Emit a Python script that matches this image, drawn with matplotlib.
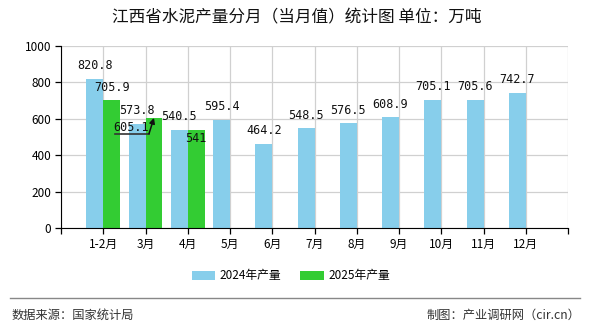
import matplotlib
matplotlib.use("Agg")
import matplotlib.pyplot as plt
import numpy as np
from matplotlib.lines import Line2D
from matplotlib.transforms import ScaledTranslation

plt.rcParams['font.family'] = ['Noto Sans CJK SC', 'DejaVu Sans']

categories = ['1-2月', '3月', '4月', '5月', '6月', '7月', '8月', '9月', '10月', '11月', '12月']
values_2024 = [820.8, 573.8, 540.5, 595.4, 464.2, 548.5, 576.5, 608.9, 705.1, 705.6, 742.7]
values_2025 = [705.9, 605.1, 541]
series_names = ['2024年产量', '2025年产量']
title = '江西省水泥产量分月（当月值）统计图 单位：万吨'
source_left = '数据来源：国家统计局'
source_right = '制图：产业调研网（cir.cn）'

c24 = '#87CEEB'
c25 = '#33CC33'

fig = plt.figure(figsize=(5.9, 3.3), dpi=100)
ax = fig.add_axes([61/590, 1-228/330, (568-61)/590, (228-46)/330])

n = len(categories)
x = np.arange(n)
w = 0.4
x25 = np.arange(len(values_2025))
b1 = ax.bar(x - w/2, values_2024, width=w, color=c24, label=series_names[0], zorder=2)
b2 = ax.bar(x25 + w/2, values_2025, width=w, color=c25, label=series_names[1], zorder=2)

ax.set_xlim(-1, n)
ax.set_ylim(0, 1000)
ax.set_yticks(np.arange(0, 1001, 200))
ax.set_xticks(np.arange(-1, n + 1))
ax.set_xticklabels([''] + categories + [''])
ax.grid(True, color='#d0d0d0', linewidth=0.9, zorder=0)
ax.set_axisbelow(True)
for s in ['top', 'right']:
    ax.spines[s].set_visible(False)
ax.spines['left'].set_color('black')
ax.spines['bottom'].set_color('black')
ax.tick_params(axis='both', length=4, width=0.9, color='black', labelsize=8.5, pad=3)
ax.tick_params(axis='y', pad=3)

lab_kw = dict(ha='center', va='center', fontsize=8.5, family=['DejaVu Sans Mono'], zorder=5, color='#111111')

for xi, v in zip(x, values_2024):
    ax.annotate(f'{v:g}', xy=(xi - w/2, v), xytext=(0, 13), textcoords='offset pixels', **lab_kw)

for xi, v in zip(x25, values_2025):
    if xi == 0:
        ax.annotate(f'{v:g}', xy=(xi + w/2, v), xytext=(0, 12), textcoords='offset pixels', **lab_kw)
    elif xi == 1:
        ax.annotate(f'{v:g}', xy=(xi + w/2, v), xytext=(-23, -10), textcoords='offset pixels', **lab_kw)
        # leader line: underline then arrow to bar top
        tr = ScaledTranslation(xi + w/2, v, ax.transData)
        ax.add_line(Line2D([-39, -5], [-16, -16], transform=tr, color='#333333', lw=1.2, zorder=6))
        ax.annotate('', xy=(xi + w/2, v), xytext=(-5, -16), textcoords='offset pixels',
                    arrowprops=dict(arrowstyle='-|>', color='#111111', lw=1.1, mutation_scale=8,
                                    shrinkA=0, shrinkB=0), zorder=6)
    else:
        ax.annotate(f'{v:g}', xy=(xi + w/2, v), xytext=(0, -9), textcoords='offset pixels', **lab_kw)

fig.text(297/590, 1 - 18/330, title, ha='center', va='center', fontsize=12, color='#111111')

fig.legend(handles=[b1, b2], labels=series_names, loc='center', bbox_to_anchor=(291/590, 1 - 276/330),
           ncol=2, frameon=False, fontsize=8.5, handlelength=2.0, handleheight=0.9,
           columnspacing=1.6, handletextpad=0.4)

fig.add_artist(Line2D([10/590, 580/590], [1 - 298/330, 1 - 298/330], color='#888888', lw=1.0))
fig.text(12/590, 1 - 315/330, source_left, ha='left', va='center', fontsize=8.8, color='#333333')
fig.text(580/590, 1 - 315/330, source_right, ha='right', va='center', fontsize=8.8, color='#333333')

fig.savefig('out.png', dpi=100)
